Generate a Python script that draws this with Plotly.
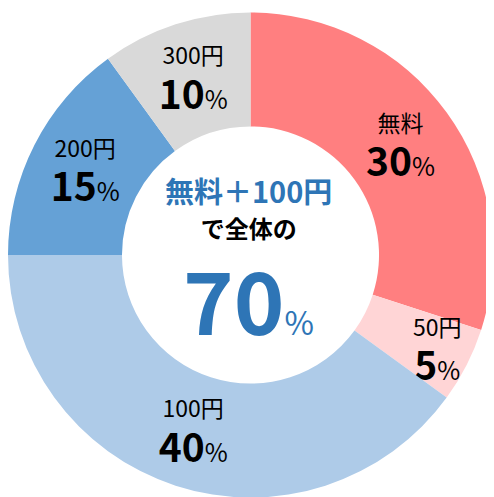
import plotly.graph_objects as go

categories = ["無料", "50円", "100円", "200円", "300円"]
values = [30, 5, 40, 15, 10]
colors = ["#FF7F80", "#FFD5D6", "#AECBE8", "#65A1D6", "#D9D9D9"]

center_line1 = "無料＋100円"
center_line2 = "で全体の"
center_value = 70

FONT = "Noto Sans CJK JP"
OFF = 8  # page body margin offset

fig = go.Figure(go.Pie(
    labels=categories,
    values=values,
    sort=False,
    direction="clockwise",
    rotation=0,
    hole=0.53,
    marker=dict(colors=colors, line=dict(width=0)),
    textposition="inside",
    insidetextorientation="horizontal",
    texttemplate="<span style='font-size:23px'>%{label}</span><br><span style='font-size:39px'><b>%{value}</b></span><span style='font-size:25px'>%</span>",
    textfont=dict(family=FONT, size=34, color="#000000"),
    hoverinfo="skip",
    showlegend=False,
    domain=dict(x=[0, 485/494], y=[7.5/497, 492.5/497]),
))

def px(x):
    return (x - OFF) / 494

def py(y):
    return 1 - (y - OFF) / 497

fig.update_layout(
    width=494, height=497,
    margin=dict(l=0, r=0, t=0, b=0),
    paper_bgcolor="white",
    plot_bgcolor="white",
    uniformtext=dict(minsize=34, mode="show"),
    annotations=[
        dict(x=px(248), y=py(207), xref="paper", yref="paper", showarrow=False,
             text=(f"<span style='font-size:29px;color:#2E75B6'><b>{center_line1}</b></span><br>"
                   f"<span style='font-size:24px;color:#000000'><b>{center_line2}</b></span>"),
             font=dict(family=FONT, size=27, color="#000000")),
        dict(x=px(248), y=py(297), xref="paper", yref="paper", showarrow=False,
             text=f"<b>{center_value}</b><span style='font-size:32px'>%</span>",
             font=dict(family=FONT, size=86, color="#2E75B6")),
    ],
)

fig.write_html("out.html")
